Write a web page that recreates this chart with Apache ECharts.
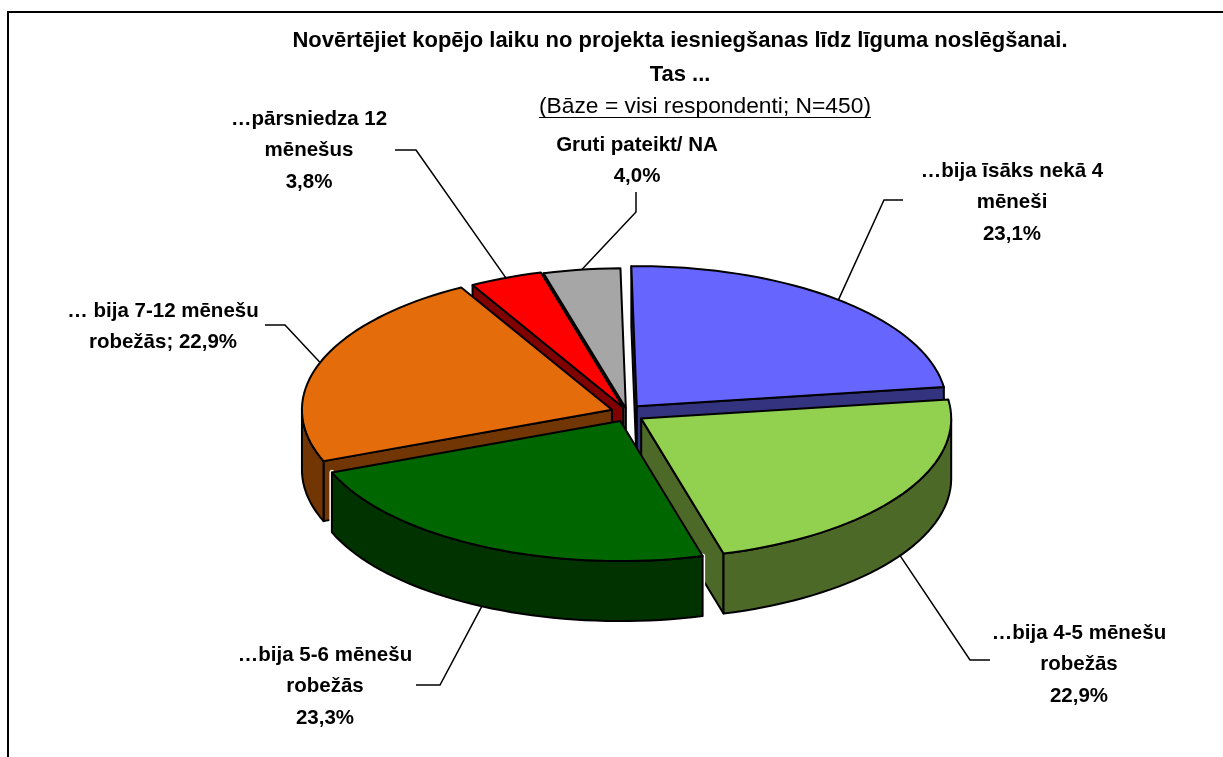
<!DOCTYPE html>
<html>
<head>
<meta charset="utf-8">
<style>
html,body{margin:0;padding:0;background:#fff}
#chart{width:1223px;height:757px}
</style>
<script src="https://cdn.jsdelivr.net/npm/echarts@6/dist/echarts.min.js"></script>
</head>
<body>
<div id="chart"></div>
<script>
// dati, nolasīti no attēla
const categories = ['…bija īsāks nekā 4 mēneši', '…bija 4-5 mēnešu robežās', '…bija 5-6 mēnešu robežās', '… bija 7-12 mēnešu robežās', '…pārsniedza 12 mēnešus', 'Gruti pateikt/ NA'];
const values = [23.1, 22.9, 23.3, 22.9, 3.8, 4.0];
const labelTemplates = [
    '…bija īsāks nekā 4\nmēneši\n{v}',
    '…bija 4-5 mēnešu\nrobežās\n{v}',
    '…bija 5-6 mēnešu\nrobežās\n{v}',
    '… bija 7-12 mēnešu\nrobežās; {v}',
    '…pārsniedza 12\nmēnešus\n{v}',
    'Gruti pateikt/ NA\n{v}'
];
const titleLines = ['Novērtējiet kopējo laiku no projekta iesniegšanas līdz līguma noslēgšanai.', 'Tas ...'];
const subtitle = '(Bāze = visi respondenti; N=450)';

// izskats
const topColors = ['#6666FF', '#92D050', '#006600', '#E46C0A', '#FF0000', '#A6A6A6'];
const wallColors = ['#333380', '#4D6928', '#003300', '#723605', '#800000', '#535353'];
const explode = [15, 17, 15, 16, 10, 8];
const labelCenters = [[1012, 171], [1079, 633], [325, 655], [163, 311], [309, 119], [637, 145]];
const leaderElbows = [[[884, 200], [903, 200]], [[970, 660], [990, 660]], [[440, 685], [416, 685]], [[285, 325], [265, 325]], [[416, 150], [395, 150]], [[636, 212], [636, 192]]];
const pie = {cx: 627, cy: 413, rx: 310, ry: 140, depth: 60, k: 0.6, startDeg: -1};
const fontName = '"Liberation Sans", Arial, sans-serif';

const total = values.reduce((a, b) => a + b, 0);
let acc = pie.startDeg;
const slices = values.map((v, i) => {
    const start = acc;
    acc += v / total * 360;
    return [i, start, acc, v];
});
// vispirms aizmugurējās daļas
const drawOrder = slices.slice().sort((a, b) => Math.cos(rad((b[1] + b[2]) / 2)) - Math.cos(rad((a[1] + a[2]) / 2)));

function rad(d) {
    return d * Math.PI / 180;
}

function renderSlice(params, api) {
    const i = api.value(0), a0 = api.value(1), a1 = api.value(2), val = api.value(3);
    const mid = (a0 + a1) / 2;
    const ax = pie.cx + explode[i] * Math.sin(rad(mid));
    const ay = pie.cy - explode[i] * Math.cos(rad(mid)) * pie.k;
    const onRim = (deg, drop) => [ax + pie.rx * Math.sin(rad(deg)), ay - pie.ry * Math.cos(rad(deg)) + (drop || 0)];

    const rim = [];
    const steps = Math.max(4, Math.round((a1 - a0) / 2));
    for (let s = 0; s <= steps; s++) {
        rim.push(onRim(a0 + (a1 - a0) * s / steps));
    }
    const line = {stroke: '#000', lineWidth: 2, lineJoin: 'round'};
    const children = [];
    const wall = pts => ({type: 'polygon', shape: {points: pts}, style: Object.assign({fill: wallColors[i]}, line)});

    // ārējā siena tikai tur, kur tā vērsta uz skatītāju
    const front = [];
    for (let s = 0; s <= steps; s++) {
        const d = a0 + (a1 - a0) * s / steps;
        if (Math.cos(rad(d)) <= 0.02) front.push(d);
    }
    const outer = front.map(d => onRim(d)).concat(front.slice().reverse().map(d => onRim(d, pie.depth)));
    if (front.length > 1) {
        // baltā mala zem sienām
        children.push({type: 'polygon', shape: {points: outer}, style: {fill: 'none', stroke: '#fff', lineWidth: 5, lineJoin: 'round'}});
    }

    const apex = [ax, ay];
    const apexLow = [ax, ay + pie.depth];
    const first = rim[0], last = rim[rim.length - 1];
    // griezuma sienas zīmē tikai tad, ja tās redzamas
    if (Math.sin(rad(a0)) < 0) {
        children.push(wall([apex, first, [first[0], first[1] + pie.depth], apexLow]));
    }
    if (Math.sin(rad(a1)) > 0) {
        children.push(wall([apex, last, [last[0], last[1] + pie.depth], apexLow]));
    }
    if (front.length > 1) {
        children.push(wall(outer));
    }
    children.push({
        type: 'polygon',
        shape: {points: [apex].concat(rim)},
        style: Object.assign({fill: topColors[i]}, line)
    });

    // izvadlīnija no daļas vidus uz etiķeti
    const onFront = Math.cos(rad(mid)) < 0;
    const leader = [onRim(mid, onFront ? pie.depth : 0)].concat(leaderElbows[i]);
    children.push({
        type: 'polyline',
        shape: {points: leader},
        style: {fill: 'none', stroke: '#000', lineWidth: 1.5},
        z2: 50
    });

    const txt = labelTemplates[i].replace('{v}', val.toFixed(1).replace('.', ',') + '%');
    txt.split('\n').forEach((t, n) => {
        children.push({
            type: 'text',
            z2: 60,
            style: {
                text: t,
                x: labelCenters[i][0],
                y: labelCenters[i][1] + n * 31.5,
                align: 'center',
                verticalAlign: 'middle',
                font: 'bold 20.5px ' + fontName,
                fill: '#000'
            }
        });
    });
    return {type: 'group', children: children};
}

const chart = echarts.init(document.getElementById('chart'));
chart.setOption({
    animation: false,
    backgroundColor: '#fff',
    graphic: [
        {type: 'line', shape: {x1: 8, y1: 12, x2: 1223, y2: 12}, style: {stroke: '#000', lineWidth: 2}},
        {type: 'line', shape: {x1: 8, y1: 11, x2: 8, y2: 757}, style: {stroke: '#000', lineWidth: 2}},
        {type: 'text', x: 680, y: 41, style: {text: titleLines[0], font: 'bold 22px ' + fontName, align: 'center', verticalAlign: 'middle', fill: '#000'}},
        {type: 'text', x: 680, y: 75, style: {text: titleLines[1], font: 'bold 22px ' + fontName, align: 'center', verticalAlign: 'middle', fill: '#000'}},
        {type: 'text', x: 705, y: 107, style: {text: subtitle, font: '22.8px ' + fontName, align: 'center', verticalAlign: 'middle', fill: '#000'}},
        {type: 'line', shape: {x1: 539, y1: 117.5, x2: 871, y2: 117.5}, style: {stroke: '#000', lineWidth: 1}}
    ],
    series: [{
        type: 'custom',
        coordinateSystem: 'none',
        silent: true,
        renderItem: renderSlice,
        encode: {itemName: 4},
        data: drawOrder.map(s => ({value: s, name: categories[s[0]]}))
    }]
});
</script>
</body>
</html>
